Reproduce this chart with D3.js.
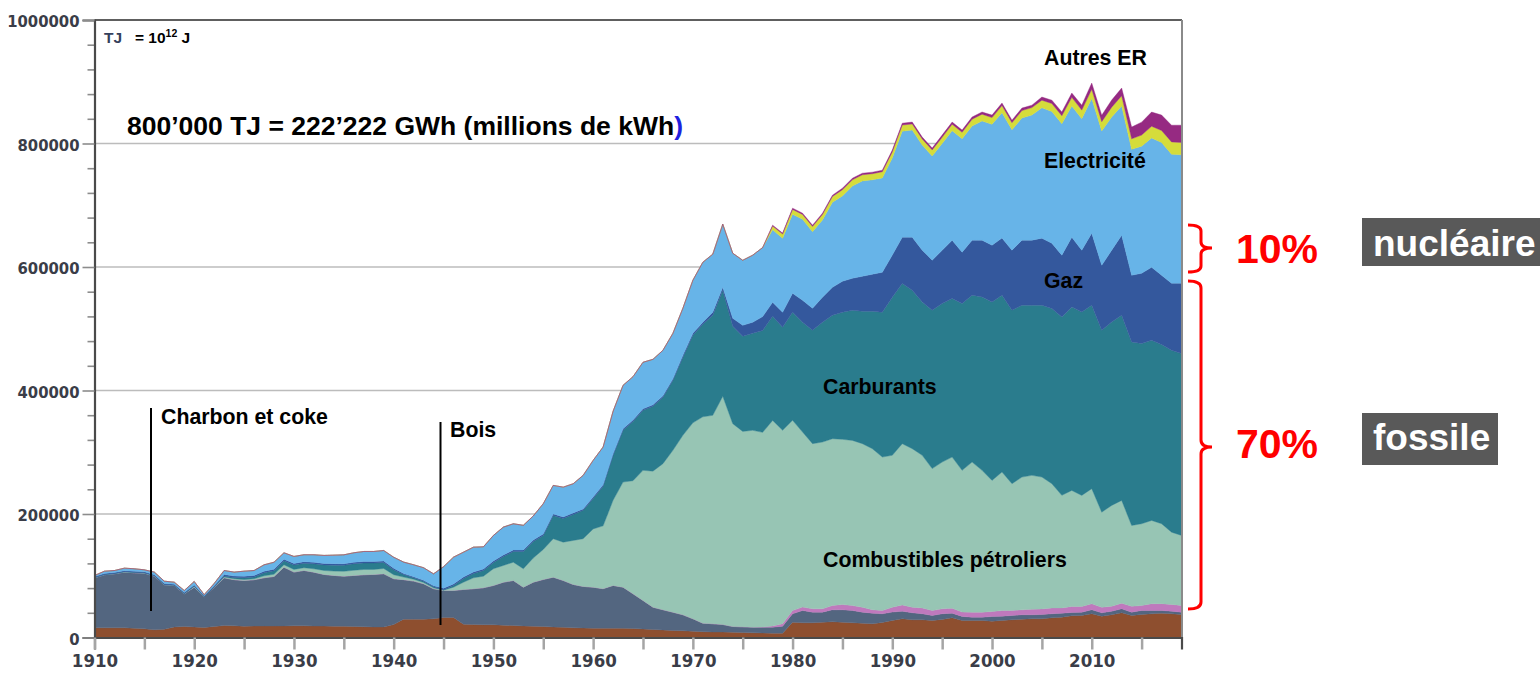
<!DOCTYPE html>
<html><head><meta charset="utf-8">
<script src="https://cdn.jsdelivr.net/npm/d3@7/dist/d3.min.js"></script>
<style>
html,body{margin:0;padding:0;background:#fff;}
svg{display:block;font-family:"Liberation Sans",Arial,sans-serif;}
.tick-lab{font-family:"Liberation Sans Narrow","DejaVu Sans Condensed","Liberation Sans",sans-serif;font-weight:bold;fill:#3a3d48;}
.lab{font-weight:bold;font-size:21.3px;fill:#000;}
</style></head>
<body>
<svg id="chart" width="1540" height="673"></svg>
<script>
// ---------------- DATA (TJ) ----------------
const years = d3.range(1910, 2020);
const seriesKeys = ["bois","charbon","dechets","combustibles","carburants","gaz","electricite","chaleur","autresER"];
const bois = [15700,15700,15700,15700,14900,14100,12500,13300,17000,17800,
17000,16200,17800,19400,19000,18300,18600,18600,18600,18800,
19000,19000,18600,18500,18300,18300,17800,17500,17000,17000,
21000,29700,29700,29700,30300,32400,32400,21600,21000,20700,
20600,19900,19400,18800,18300,17800,17000,16500,15700,15400,
15100,15100,15100,14900,14600,13800,13000,12200,11300,10900,
10200,9400,8900,8900,8600,8100,7600,7300,7000,7000,
24800,23800,23800,24800,25400,24800,23800,23200,22200,24300,
27600,30300,28700,28700,27600,29200,31900,27600,27600,27600,
26400,27600,28700,29700,30300,30300,31900,32900,35200,35700,
38400,34500,36800,40000,35700,37300,38400,39400,38400,37300];
const charbon = [81000,85900,87500,90100,89900,90100,86900,72100,67300,53000,
64500,49900,63700,77300,74600,74100,74900,78100,80200,95100,
86900,89600,87200,83600,82200,81000,82700,84100,85100,86200,
74100,63900,61600,57400,48600,43800,43800,56200,57900,59800,
63700,69700,72900,62700,71300,76200,80700,75800,70200,67300,
66400,63900,69200,66600,56200,46200,36100,32700,29700,25900,
20100,13800,13300,12200,9200,9200,9100,9400,9700,11300,
13600,19900,17200,16200,19400,20100,19900,17800,17200,14100,
13500,12300,11300,9700,8100,9200,7500,6500,5300,5300,
7600,7000,7000,7100,6500,7000,6500,6500,5300,5300,
6500,5500,5800,6500,5300,6500,5300,4400,4200,3700];
const dechets = [0,0,0,0,0,0,0,0,0,0,
0,0,0,0,0,0,0,0,0,0,
0,0,0,0,0,0,0,0,0,0,
0,0,0,0,0,0,0,0,0,0,
0,0,0,0,0,0,0,0,0,0,
0,0,0,0,0,0,0,0,0,0,
0,0,0,0,0,0,0,500,1900,3900,
5300,5500,5500,5500,7000,8500,8000,8000,5500,5300,
8000,10000,9000,9500,8000,8000,8000,7000,8000,8000,
8000,9000,8000,8000,9000,9000,9500,8500,9700,9200,
9700,9000,8000,9000,9500,8000,11000,11000,11000,11000];
const combustibles = [0,200,200,500,500,300,500,200,200,200,
1100,0,300,1300,1600,1600,1600,3200,3700,3900,
4400,4400,5500,6500,7000,7900,8400,8600,8100,8600,
6600,4200,3100,2100,1600,500,5300,11800,17800,18800,
27100,27100,29700,29800,39200,48600,62200,62100,71300,77300,
94300,101800,137800,170200,183100,210700,220300,236600,262100,290600,
317300,334200,337600,369500,328500,316500,318800,315000,333000,313300,
308000,283500,267400,270000,270100,267500,267500,264900,260900,248500,
246000,261300,256800,247100,229800,237700,244800,229600,243200,229800,
212400,224400,205400,215000,216800,213500,201200,182300,188000,179900,
186400,154000,163300,166500,131000,132500,134900,129500,117000,113300];
const carburants = [300,300,300,300,300,300,300,300,300,300,
800,100,500,1600,1800,2900,2900,4900,5700,6500,
7300,7300,8100,8900,9700,9700,10500,10500,10500,9700,
8100,4100,2400,1900,1600,800,2800,6000,7000,9200,
10200,14600,17300,28000,26700,22700,37800,38400,42100,45900,
49400,64000,72900,83800,96100,97200,105000,107500,113400,126400,
141800,149900,162100,171800,157700,154000,157200,164800,168600,166900,
175000,177800,183600,194000,199800,205800,210700,214400,222500,234500,
256100,259300,256600,248500,256600,256700,256700,270200,270200,280900,
289000,286400,280900,278300,275500,278300,283600,289000,297100,297100,
297100,294500,297100,299800,297100,291700,291700,290100,294500,294500];
const gaz = [1600,1600,1600,1600,1600,1600,1600,1600,1600,1600,
1600,1300,1600,2400,2400,2400,2400,2400,2400,2400,
2400,2400,2400,2400,2400,2400,2400,2400,2400,2400,
2400,1600,1600,1600,1600,2400,2400,2400,2400,2400,
2400,2400,2400,2400,2400,2400,2400,2400,2400,2400,
2400,2400,2400,2400,2400,2400,2400,2400,2400,3200,
3200,3200,4900,4900,13000,17800,17800,22700,22700,24300,
30800,35700,35700,40500,45400,50200,51900,56700,60000,64800,
68100,75000,85900,83800,81000,86400,94500,83100,89100,91900,
92000,92400,97200,105300,105300,108600,105800,100000,113000,100000,
116700,105300,116200,129700,108100,113900,118300,112300,108600,113900];
const electricite = [1800,3700,3200,4100,4100,3200,4100,3700,3200,3200,
5700,1900,3600,6500,6500,8100,8100,10500,11300,10500,
11300,11300,12200,13000,13800,14600,15400,16200,16200,17000,
17800,18600,19400,20300,19400,34800,43400,40200,40200,36000,
41300,45100,42500,40000,39000,49000,46200,48300,47300,54300,
59200,61300,68900,70500,70000,75400,73700,73700,73700,76200,
85900,97200,94000,102100,105300,105300,108600,111800,117400,119700,
127800,131000,124000,125200,137700,138200,149500,154400,152800,152800,
157100,171700,173400,170100,168500,172900,177300,183700,184900,193000,
195600,203200,195100,197900,202700,211000,213200,212800,212400,212900,
218100,217600,215600,209300,203900,205700,209300,214900,208900,208000];
const chaleur = [0,0,0,0,0,0,0,0,0,0,
0,0,0,0,0,0,0,0,0,0,
0,0,0,0,0,0,0,0,0,0,
0,0,0,0,0,0,0,0,0,0,
0,0,0,0,0,0,0,0,0,0,
0,0,0,0,0,0,0,0,0,0,
0,0,0,0,0,0,0,0,6000,7000,
8000,8000,8500,9000,9500,10000,10000,10000,10000,10000,
10000,10000,10000,10000,10000,10000,10500,10500,11000,11000,
11000,11500,11500,12000,12000,12500,13000,13000,14000,14000,
15000,15000,16000,16500,17000,18000,19000,19500,20000,20000];
const autresER = [0,0,0,0,0,0,0,0,0,0,
0,0,0,0,0,0,0,0,0,0,
0,0,0,0,0,0,0,0,0,0,
0,0,0,0,0,0,0,0,0,0,
0,0,0,0,0,0,0,0,0,0,
0,0,0,0,0,0,0,0,0,0,
0,0,0,0,0,0,0,0,1500,1500,
2000,2000,2000,2000,2000,2500,2500,2500,2500,2500,
3000,3000,3000,3000,3000,3500,3500,3500,3500,3500,
4000,4000,4000,4000,4000,5000,5500,6000,7000,8000,
10000,10500,11500,12500,19000,21000,23000,25000,27000,28000];
const seriesColors = ["#8e4f2f","#536680","#bf79bd","#97c5b4","#2a7c8d","#34589d","#67b4e8","#d5dc3b","#962a82"];
const yMajorTicks = [0,200000,400000,600000,800000,1000000];
const xLabelTicks = [1910,1920,1930,1940,1950,1960,1970,1980,1990,2000,2010];

// ---------------- CHART ----------------
const svg = d3.select("#chart");
const X0 = 94.5, X1 = 1182, Y0 = 637.5, Y1 = 20;
const x = d3.scaleLinear().domain([1910, 2019]).range([X0, 1181.5]);
const y = d3.scaleLinear().domain([0, 1000000]).range([Y0, Y1]);

const dataMap = {bois, charbon, dechets, combustibles, carburants, gaz, electricite, chaleur, autresER};
const table = years.map((yr, i) => {
  const o = {year: yr};
  seriesKeys.forEach(k => o[k] = dataMap[k][i]);
  return o;
});
const stacked = d3.stack().keys(seriesKeys)(table);

// gridlines
svg.append("g").selectAll("line").data(yMajorTicks.filter(v => v > 0 && v < 1000000)).join("line")
  .attr("x1", X0).attr("x2", X1).attr("y1", d => y(d)).attr("y2", d => y(d))
  .attr("stroke", "#bcbcbc").attr("stroke-width", 1.6);

svg.append("defs").append("clipPath").attr("id", "clip")
  .append("rect").attr("x", X0).attr("y", Y1).attr("width", X1 - X0).attr("height", Y0 - Y1);

const area = d3.area().x(d => x(d.data.year)).y0(d => y(d[0])).y1(d => y(d[1]));
svg.append("g").attr("clip-path", "url(#clip)").selectAll("path").data(stacked).join("path")
  .attr("d", area).attr("fill", (d, i) => seriesColors[i])
  .attr("stroke", (d, i) => seriesColors[i]).attr("stroke-width", 0.4);

// frame
svg.append("line").attr("x1", X0).attr("x2", X1).attr("y1", Y1).attr("y2", Y1).attr("stroke", "#5e5e5e").attr("stroke-width", 2);
svg.append("line").attr("x1", X1).attr("x2", X1).attr("y1", Y1).attr("y2", Y0).attr("stroke", "#8a8a8a").attr("stroke-width", 2);

// y axis
const yAxisMinor = d3.axisLeft(y).tickValues(d3.range(0, 1000001, 40000).filter(v => v % 200000 !== 0)).tickSize(7).tickFormat("");
const gyMin = svg.append("g").attr("transform", `translate(${X0},0)`).call(yAxisMinor);
gyMin.select(".domain").remove();
gyMin.selectAll(".tick line").attr("stroke", "#8c8c8c").attr("stroke-width", 1.6);
const yAxis = d3.axisLeft(y).tickValues(yMajorTicks).tickSize(12).tickPadding(3).tickFormat(d3.format("d"));
const gy = svg.append("g").attr("transform", `translate(${X0},0)`).call(yAxis);
gy.select(".domain").attr("stroke", "#4a4a4a").attr("stroke-width", 2.2);
gy.selectAll(".tick line").attr("stroke", "#8c8c8c").attr("stroke-width", 1.6);
gy.selectAll(".tick text").attr("class", "tick-lab").attr("font-size", 16.5).attr("fill", "#3a3d48").attr("dy", "0.4em");

// x axis
const xAxis = d3.axisBottom(x).tickValues(d3.range(1910, 2020, 5)).tickSize(12).tickPadding(5)
  .tickFormat(d => xLabelTicks.includes(d) ? d : "");
const gx = svg.append("g").attr("transform", `translate(0,${Y0})`).call(xAxis);
gx.select(".domain").attr("stroke", "#4a4a4a").attr("stroke-width", 2.2);
gx.selectAll(".tick line").attr("stroke", "#a5a5a5").attr("stroke-width", 2.5);
gx.selectAll(".tick text").attr("class", "tick-lab").attr("font-size", 18.5).attr("fill", "#3a3d48").attr("dy", "0.68em");

// annotations inside plot
const t1 = svg.append("text").attr("x", 104).attr("y", 43).attr("font-weight", "bold").attr("font-size", 15.5);
t1.append("tspan").attr("fill", "#34405c").text("TJ");
t1.append("tspan").attr("x", 135).attr("fill", "#000").text("= 10");
t1.append("tspan").attr("fill", "#000").attr("font-size", 10.5).attr("dy", -6).text("12");
t1.append("tspan").attr("fill", "#000").attr("dy", 6).text(" J");

const t2 = svg.append("text").attr("x", 127).attr("y", 135).attr("font-weight", "bold").attr("font-size", 26.5).attr("fill", "#000");
t2.append("tspan").text("800\u2019000 TJ = 222\u2019222 GWh (millions de kWh");
t2.append("tspan").attr("fill", "#1f1fe0").text(")");

const labels = [
  {t: "Autres ER", x: 1044, y: 65},
  {t: "Electricité", x: 1044, y: 168},
  {t: "Gaz", x: 1044, y: 288},
  {t: "Carburants", x: 823, y: 394},
  {t: "Combustibles pétroliers", x: 823, y: 567},
  {t: "Charbon et coke", x: 161, y: 424},
  {t: "Bois", x: 450, y: 437}
];
svg.append("g").selectAll("text").data(labels).join("text").attr("class", "lab")
  .attr("x", d => d.x).attr("y", d => d.y).text(d => d.t);

svg.append("line").attr("x1", 151).attr("x2", 151).attr("y1", 408).attr("y2", 611).attr("stroke", "#000").attr("stroke-width", 2);
svg.append("line").attr("x1", 440.5).attr("x2", 440.5).attr("y1", 422).attr("y2", 625).attr("stroke", "#000").attr("stroke-width", 2);

// braces
function brace(x0, xs, xt, y0, ym, y1, r) {
  return `M${x0},${y0} Q${xs},${y0} ${xs},${y0 + r} L${xs},${ym - r} Q${xs},${ym} ${xt},${ym} Q${xs},${ym} ${xs},${ym + r} L${xs},${y1 - r} Q${xs},${y1} ${x0},${y1}`;
}
svg.append("path").attr("d", brace(1188, 1201, 1212, 225, 248, 272, 6)).attr("fill", "none").attr("stroke", "#ff0000").attr("stroke-width", 3);
svg.append("path").attr("d", brace(1188, 1201, 1212, 281, 447, 609, 7)).attr("fill", "none").attr("stroke", "#ff0000").attr("stroke-width", 3);

svg.append("text").attr("x", 1236).attr("y", 263).attr("font-weight", "bold").attr("font-size", 41).attr("fill", "#ff0000").text("10%");
svg.append("text").attr("x", 1236).attr("y", 458).attr("font-weight", "bold").attr("font-size", 41).attr("fill", "#ff0000").text("70%");

svg.append("rect").attr("x", 1362).attr("y", 218).attr("width", 190).attr("height", 48).attr("fill", "#595959");
svg.append("text").attr("x", 1373).attr("y", 256).attr("font-weight", "bold").attr("font-size", 37).attr("fill", "#fff").text("nucléaire");
svg.append("rect").attr("x", 1362).attr("y", 413).attr("width", 136).attr("height", 52).attr("fill", "#595959");
svg.append("text").attr("x", 1373).attr("y", 450).attr("font-weight", "bold").attr("font-size", 37).attr("fill", "#fff").text("fossile");
</script>
</body></html>
